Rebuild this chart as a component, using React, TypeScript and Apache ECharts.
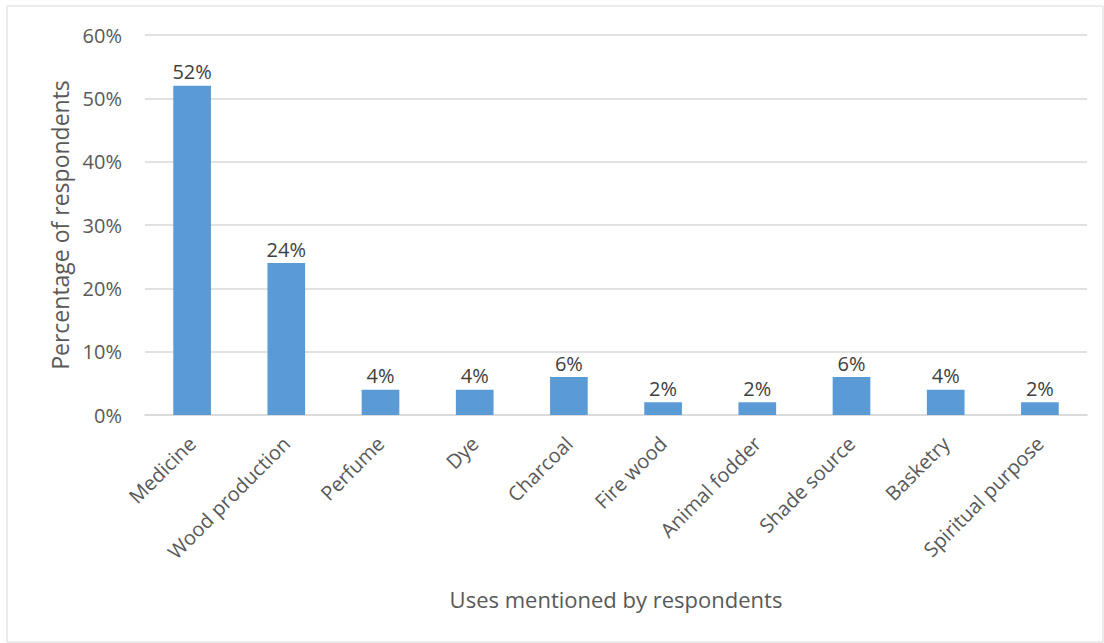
import React, { useEffect, useRef } from "react";
import * as echarts from "echarts";

const categories = [
  "Medicine",
  "Wood production",
  "Perfume",
  "Dye",
  "Charcoal",
  "Fire wood",
  "Animal fodder",
  "Shade source",
  "Basketry",
  "Spiritual purpose",
];
const values = [52, 24, 4, 4, 6, 2, 2, 6, 4, 2];
const yTicks = [0, 10, 20, 30, 40, 50, 60];

const FONT = "'Open Sans', 'Noto Sans', sans-serif";

export default function App() {
  const ref = useRef<HTMLDivElement>(null);
  useEffect(() => {
    document.body.style.margin = "0";
    const chart = echarts.init(ref.current!, null, { renderer: "svg" });
    chart.setOption({
      animation: false,
      backgroundColor: "#ffffff",
      textStyle: { fontFamily: FONT },
      graphic: [
        {
          type: "rect",
          shape: { x: 7, y: 6, width: 1096, height: 636 },
          style: { fill: "none", stroke: "#D9D9D9", lineWidth: 1 },
          silent: true,
        },
      ],
      grid: { left: 145, right: 17, top: 35, bottom: 228 },
      xAxis: {
        type: "category",
        data: categories,
        axisLine: { lineStyle: { color: "#D9D9D9", width: 1.5 } },
        axisTick: { show: false },
        axisLabel: {
          rotate: 45,
          color: "#595959",
          fontSize: 20,
          fontFamily: FONT,
          margin: 25,
          interval: 0,
        },
        name: "Uses mentioned by respondents",
        nameLocation: "middle",
        nameGap: 173,
        nameTextStyle: { color: "#595959", fontSize: 22, fontFamily: FONT },
      },
      yAxis: {
        type: "value",
        min: yTicks[0],
        max: yTicks[yTicks.length - 1],
        interval: 10,
        axisLine: { show: false },
        axisTick: { show: false },
        splitLine: { lineStyle: { color: "#D9D9D9", width: 1.5 } },
        axisLabel: {
          color: "#595959",
          fontSize: 20,
          fontFamily: FONT,
          margin: 23,
          formatter: (v: number) => v + "%",
        },
        name: "Percentage of respondents",
        nameLocation: "middle",
        nameGap: 72,
        nameRotate: 90,
        nameTextStyle: { color: "#595959", fontSize: 23, fontFamily: FONT },
      },
      series: [
        {
          type: "bar",
          data: values,
          barWidth: "40%",
          itemStyle: { color: "#5B9BD5" },
          label: {
            show: true,
            position: "top",
            distance: 4,
            color: "#404040",
            fontSize: 20,
            fontFamily: FONT,
            formatter: (p: any) => p.value + "%",
          },
        },
      ],
    });
    return () => chart.dispose();
  }, []);
  return (
    <div
      ref={ref}
      style={{ position: "absolute", left: 0, top: 0, width: 1104, height: 643 }}
    />
  );
}
